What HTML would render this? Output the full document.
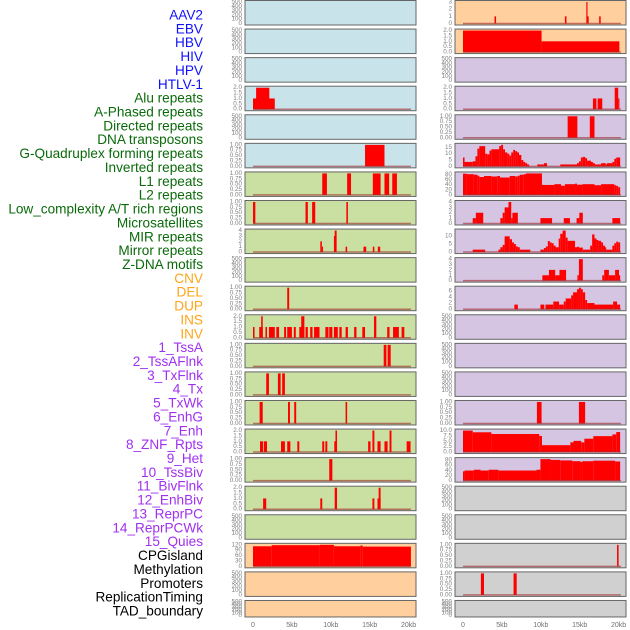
<!DOCTYPE html>
<html><head><meta charset="utf-8"><style>
html,body{margin:0;padding:0;background:#fff;}
svg{display:block;font-family:"Liberation Sans",sans-serif;}
</style></head><body>
<svg id="chart" width="630" height="630" viewBox="0 0 630 630"></svg>
<script>
// ---- labels ----
const labels = ["AAV2","EBV","HBV","HIV","HPV","HTLV-1",
"Alu repeats","A-Phased repeats","Directed repeats","DNA transposons","G-Quadruplex forming repeats","Inverted repeats","L1 repeats","L2 repeats","Low_complexity A/T rich regions","Microsatellites","MIR repeats","Mirror repeats","Z-DNA motifs",
"CNV","DEL","DUP","INS","INV",
"1_TssA","2_TssAFlnk","3_TxFlnk","4_Tx","5_TxWk","6_EnhG","7_Enh","8_ZNF_Rpts","9_Het","10_TssBiv","11_BivFlnk","12_EnhBiv","13_ReprPC","14_ReprPCWk","15_Quies",
"CPGisland","Methylation","Promoters","ReplicationTiming","TAD_boundary"];
const labelGroupSizes = [6,13,5,15,5];
const labelGroupColors = ["#1010ff","#0a6a0a","#ffa51a","#a030f0","#000000"];
const xTickKb = [0,5,10,15,20];
const xTickLabels = ["0","5kb","10kb","15kb","20kb"];

// ---- ticks ----
const ticksEmpty = [0,100,200,300,400,500];
const ticks2 = [0,0.5,1,1.5,2];
const ticks1 = [0,0.25,0.5,0.75,1];
const ticks4 = [0,1,2,3,4];
const ticks3 = [0,1,2,3];
const ticks15 = [0,5,10,15];
const ticks80 = [0,20,40,60,80];
const ticks10 = [0,5,10];
const ticks6 = [0,2,4,6];
const ticks10b = [0,2.5,5,7.5,10];
const ticks120 = [0,30,60,90,120];

// ---- data: [startKb, endKb, value] ----
const segL3 = [[0,2.8,1],[0.4,2.1,2]];
const segL5 = [[14.4,16.9,1]];
const segL6 = [[8.9,9.5,1],[12.1,12.6,1],[15.4,16.4,1],[16.9,17.5,1],[17.9,18.5,1]];
const segL7 = [[0,0.3,1],[6.75,7.05,1],[7.6,8.0,1],[12.0,12.2,1]];
const segL8 = [[8.65,8.85,2],[8.85,8.95,1],[10.4,10.5,3],[10.5,10.75,4],[11.9,12.1,1],[14.2,14.55,1],[15.4,15.6,1],[16.05,16.35,1]];
const segL10 = [[4.4,4.65,1]];
const segL11 = [[0,0.2,1],[0.8,1.25,1],[1.05,1.25,2],[1.6,1.8,1],[2.05,2.8,1],[3.0,3.35,1],[4.0,4.25,1],[4.4,5.0,1],[5.25,5.5,1],[5.95,6.6,1],[6.2,6.6,2],[6.75,7.05,1],[7.35,7.65,1],[7.85,8.55,1],[9.3,9.7,1],[9.8,10.2,1],[10.4,10.9,1],[11.1,11.4,1],[11.9,12.2,1],[13.0,13.3,1],[14.05,14.4,1],[15.55,15.85,2],[17.25,17.55,1],[18.0,18.75,1],[19.1,19.45,1]];
const segL12 = [[16.8,17.15,1],[17.3,17.7,1]];
const segL13 = [[1.7,2.05,1],[3.2,3.55,1],[3.75,4.1,1]];
const segL14 = [[0.85,1.25,1],[4.5,4.75,1],[5.3,5.55,1],[11.9,12.1,1]];
const segL15 = [[0.9,1.3,1],[1.4,1.8,1],[3.6,4.1,1],[4.4,4.8,1],[5.7,5.95,1],[8.9,9.15,1],[9.3,9.55,1],[10.45,10.8,1],[10.6,10.8,2],[14.8,15.1,1],[15.35,15.6,2],[16.0,16.4,1],[16.9,17.3,1],[17.55,17.8,2],[19.75,20.25,1]];
const segL16 = [[9.8,10.2,1]];
const segL17 = [[1.3,1.7,1],[8.65,8.9,1],[10.5,10.8,2],[15.35,15.6,1],[16.0,16.4,1],[16.15,16.4,2]];
const segL19 = [[0,2.4,112],[2.4,8.6,118],[8.6,10.4,120],[10.4,13.8,112],[13.8,14.1,116],[14.1,20.3,110]];

const segR0 = [[4.05,4.25,1],[13.1,13.3,1],[15.85,16.0,3],[16.0,16.15,1],[17.5,17.7,1]];
const segR1 = [[0,10.1,2],[10.1,20.1,1]];
const segR3 = [[16.7,17.15,1],[17.3,17.9,1],[19.5,19.95,2],[19.95,20.1,1]];
const segR4 = [[13.45,14.7,1],[16.3,16.9,1]];
const segR5 = [[0,0.2,7],[0.2,1.25,3.5],[1.25,1.6,4],[1.6,1.85,8],[1.85,2.1,14],[2.1,2.85,16],[2.85,3.1,10],[3.1,3.4,9.5],[3.4,3.65,12.5],[3.65,4.65,13.5],[4.65,4.9,16],[4.9,5.15,17],[5.15,5.4,13.5],[5.4,5.7,11],[5.7,5.95,10],[5.95,6.2,8.5],[6.2,6.45,11],[6.45,6.7,13],[6.7,6.95,12],[6.95,7.2,11],[7.2,7.5,9],[7.5,7.75,5],[7.75,8.0,3.5],[8.0,8.25,2.5],[8.25,8.5,1.5],[9.55,10.4,1.5],[10.4,10.8,2.5],[12.5,14.65,1.5],[14.65,14.9,2.5],[14.9,15.15,4],[15.15,15.4,7],[15.4,15.7,7.5],[15.7,15.95,6.5],[15.95,16.45,4.5],[16.45,16.7,3.5],[16.7,16.95,2.5],[16.95,17.75,1.5],[17.75,18.35,2.5],[18.35,18.5,1.5],[18.5,19.2,2.5],[19.2,19.45,3.5],[19.45,19.7,6],[19.7,20.2,7]];
const segR6 = [[0,0.5,83],[0.5,1.4,81],[1.4,1.85,79],[1.85,2.1,75],[2.1,2.7,70],[2.7,3.65,74],[3.65,4.4,72],[4.4,4.75,74],[4.75,6.0,68],[6.0,6.7,74],[6.7,7.05,72],[7.05,7.3,75],[7.3,7.8,79],[7.8,8.1,81],[8.1,10.15,84],[10.15,11.75,39],[11.75,12.6,42],[12.6,13.1,36],[13.1,14.4,42],[14.4,14.65,44],[14.65,15.35,40],[15.35,16.9,42],[16.9,17.75,38],[17.75,19.45,42],[19.45,19.7,38],[19.7,19.95,35],[19.95,20.2,30]];
const segR7 = [[1.25,1.65,1],[1.65,2.6,2],[4.8,5.1,1],[5.1,5.35,2],[5.35,5.85,3],[5.85,6.2,4],[6.2,6.35,1],[6.35,7.05,2],[9.95,11.45,1],[12.95,13.75,1],[14.6,14.95,1],[14.95,15.4,2],[19.2,20.2,1]];
const segR8 = [[1.25,2.85,1.5],[4.55,4.8,1.5],[4.8,5.1,3],[5.1,5.35,4.5],[5.35,6.0,9.8],[6.0,6.3,8],[6.3,6.55,6],[6.55,6.8,5],[6.8,7.05,3.5],[7.05,7.3,3],[7.3,8.65,1.5],[9.95,10.4,1.5],[10.4,10.65,2.5],[10.65,10.9,3.5],[10.9,11.15,6.9],[11.15,11.4,6],[11.4,11.65,5.5],[11.65,11.9,4],[11.9,12.3,3],[12.3,12.5,8.4],[12.5,12.8,11.4],[12.8,13.2,13.4],[13.2,13.45,9],[13.45,14.4,7],[14.4,14.65,3],[14.65,14.9,3.3],[14.9,15.4,2.8],[15.4,16.35,1.5],[16.35,16.6,4],[16.6,16.9,11],[16.9,17.15,8.5],[17.15,17.4,7.5],[17.4,17.75,7],[17.75,18.0,6],[18.0,18.25,4],[18.25,18.4,3],[18.4,19.2,1.5],[19.2,19.45,4],[19.45,19.7,5.5],[19.7,19.95,6.5],[19.95,20.2,6]];
const segR9 = [[10.2,11.05,1],[11.05,11.85,2],[11.85,12.4,1],[12.4,13.25,2],[14.7,14.9,1],[14.9,15.4,4],[17.9,18.15,1],[18.15,18.75,2],[18.75,19.55,1],[19.55,20.05,2],[20.05,20.2,1]];
const segR10 = [[6.6,7.05,1.5],[9.95,10.45,1.5],[10.6,11.6,1.5],[11.6,12.35,2.5],[12.35,12.95,1.5],[12.95,13.2,2.5],[13.2,13.9,3.5],[13.9,14.15,4.5],[14.15,14.65,5.5],[14.65,14.9,6.5],[14.9,15.15,7],[15.15,15.4,6.5],[15.4,15.7,5.5],[15.7,15.95,3],[15.95,16.9,2],[16.9,19.3,1.5],[19.3,19.8,2.5],[19.8,20.2,1.5]];
const segR14 = [[9.5,10.1,1],[14.9,15.7,1]];
const segR15 = [[0,1.25,10],[1.25,3.65,9.2],[3.65,9.8,8.4],[9.8,10.15,7.5],[10.15,13.8,3.2],[13.8,14.2,4.5],[14.2,15.2,5.2],[15.2,15.6,4.5],[15.6,16.75,6.2],[16.75,19.2,7.4],[19.2,19.7,8.2],[19.7,20.2,9.3]];
const segR16 = [[0,0.2,36],[0.2,1.4,39],[1.4,2.25,42],[2.25,3.3,39],[3.3,4.55,42],[4.55,9.45,39],[9.45,9.95,42],[9.95,11.25,83],[11.25,12.5,80],[12.5,14.05,78],[14.05,15.1,75],[15.1,15.35,72],[15.35,16.75,75],[16.75,19.55,77],[19.55,20.2,74]];
const segR19 = [[19.8,20.0,1]];
const segR20 = [[2.3,2.7,1],[6.5,6.9,1]];

const BLUE="#c9e3eb", GREEN="#c9e0a2", ORANGE="#ffd09e", PURPLE="#d5c5e3", GRAY="#d0d0d0";
// [col, row, bg, ticks, data]
const panels = [
 [0,0,BLUE,ticksEmpty,null],[0,1,BLUE,ticksEmpty,null],[0,2,BLUE,ticksEmpty,null],
 [0,3,BLUE,ticks2,segL3],[0,4,BLUE,ticksEmpty,null],[0,5,BLUE,ticks1,segL5],
 [0,6,GREEN,ticks1,segL6],[0,7,GREEN,ticks1,segL7],[0,8,GREEN,ticks4,segL8],
 [0,9,GREEN,ticksEmpty,null],[0,10,GREEN,ticks1,segL10],[0,11,GREEN,ticks2,segL11],
 [0,12,GREEN,ticks1,segL12],[0,13,GREEN,ticks1,segL13],[0,14,GREEN,ticks1,segL14],
 [0,15,GREEN,ticks2,segL15],[0,16,GREEN,ticks1,segL16],[0,17,GREEN,ticks2,segL17],
 [0,18,GREEN,ticksEmpty,null],[0,19,ORANGE,ticks120,segL19],[0,20,ORANGE,ticksEmpty,null],[0,21,ORANGE,ticksEmpty,null],
 [1,0,ORANGE,ticks3,segR0],[1,1,ORANGE,ticks2,segR1],[1,2,PURPLE,ticksEmpty,null],
 [1,3,PURPLE,ticks2,segR3],[1,4,PURPLE,ticks1,segR4],[1,5,PURPLE,ticks15,segR5],
 [1,6,PURPLE,ticks80,segR6],[1,7,PURPLE,ticks4,segR7],[1,8,PURPLE,ticks10,segR8],
 [1,9,PURPLE,ticks4,segR9],[1,10,PURPLE,ticks6,segR10],[1,11,PURPLE,ticksEmpty,null],
 [1,12,PURPLE,ticksEmpty,null],[1,13,PURPLE,ticksEmpty,null],[1,14,PURPLE,ticks1,segR14],
 [1,15,PURPLE,ticks10b,segR15],[1,16,PURPLE,ticks80,segR16],[1,17,GRAY,ticksEmpty,null],
 [1,18,GRAY,ticksEmpty,null],[1,19,GRAY,ticks1,segR19],[1,20,GRAY,ticks1,segR20],[1,21,GRAY,ticksEmpty,null]
];

const NS="http://www.w3.org/2000/svg";
const svg=document.getElementById('chart');
function mk(tag,attrs,parent){const e=document.createElementNS(NS,tag);for(const k in attrs)e.setAttribute(k,attrs[k]);(parent||svg).appendChild(e);return e;}

// labels
let li=0;
labelGroupSizes.forEach((n,g)=>{
  for(let i=0;i<n;i++,li++){
    const t=mk('text',{x:203,y:15+li*13.86,'text-anchor':'end','dominant-baseline':'central','font-size':'13.6',fill:labelGroupColors[g]});
    
    
    t.textContent=labels[li];
  }
});

const colX=[245,455], PW=171, KB=7.78, ROWSTEP=28.57;
function xScale(col,kb){return colX[col]+8+kb*KB;}

panels.forEach(p=>{
  const [col,row,bg,ticks,data]=p;
  const top=row*ROWSTEP+0.5;
  const h=row===21?16.5:24.5;
  const bottom=top+h;
  const g=mk('g',{});
  
  
  mk('rect',{x:colX[col],y:top,width:PW,height:h,fill:bg,stroke:'none'},g);
  let ymax=ticks[ticks.length-1];
  if(data){ymax=Math.max(...data.map(d=>d[2]));}
  const yS=v=>bottom-1.5-v/ymax*(h-3);
  // ticks
  ticks.forEach(tv=>{
    const t=mk('text',{x:colX[col]-3,y:yS(tv),'text-anchor':'end','dominant-baseline':'central','font-size':'6.3',fill:'#808080'},g);
    
    
    t.textContent=(ticks===ticks1)?tv.toFixed(2):(ticks===ticks2||ticks===ticks10b&&tv%1)?tv.toFixed(1):(ticks===ticks10b?tv.toFixed(1):String(tv));
  });
  if(data){
    data.forEach(d=>{
      const r=mk('rect',{x:xScale(col,d[0]),y:yS(d[2]),width:Math.max(1.2,(d[1]-d[0])*KB),height:yS(0)-yS(d[2]),fill:'#ff0000'},g);
      
      
    });
    mk('line',{x1:xScale(col,0),x2:xScale(col,20.3),y1:yS(0),y2:yS(0),stroke:'#a02828','stroke-opacity':0.6,'stroke-width':1.5},g);
  }
  mk('rect',{x:colX[col],y:top,width:PW,height:h,fill:'none',stroke:'#666','stroke-width':1},g);
});

// x axes
[0,1].forEach(col=>{
  xTickKb.forEach((kb,i)=>{
    const t=mk('text',{x:xScale(col,kb),y:627,'text-anchor':'middle','font-size':'7',fill:'#707070'});
    
    
    t.textContent=xTickLabels[i];
  });
});
</script>
</body></html>
